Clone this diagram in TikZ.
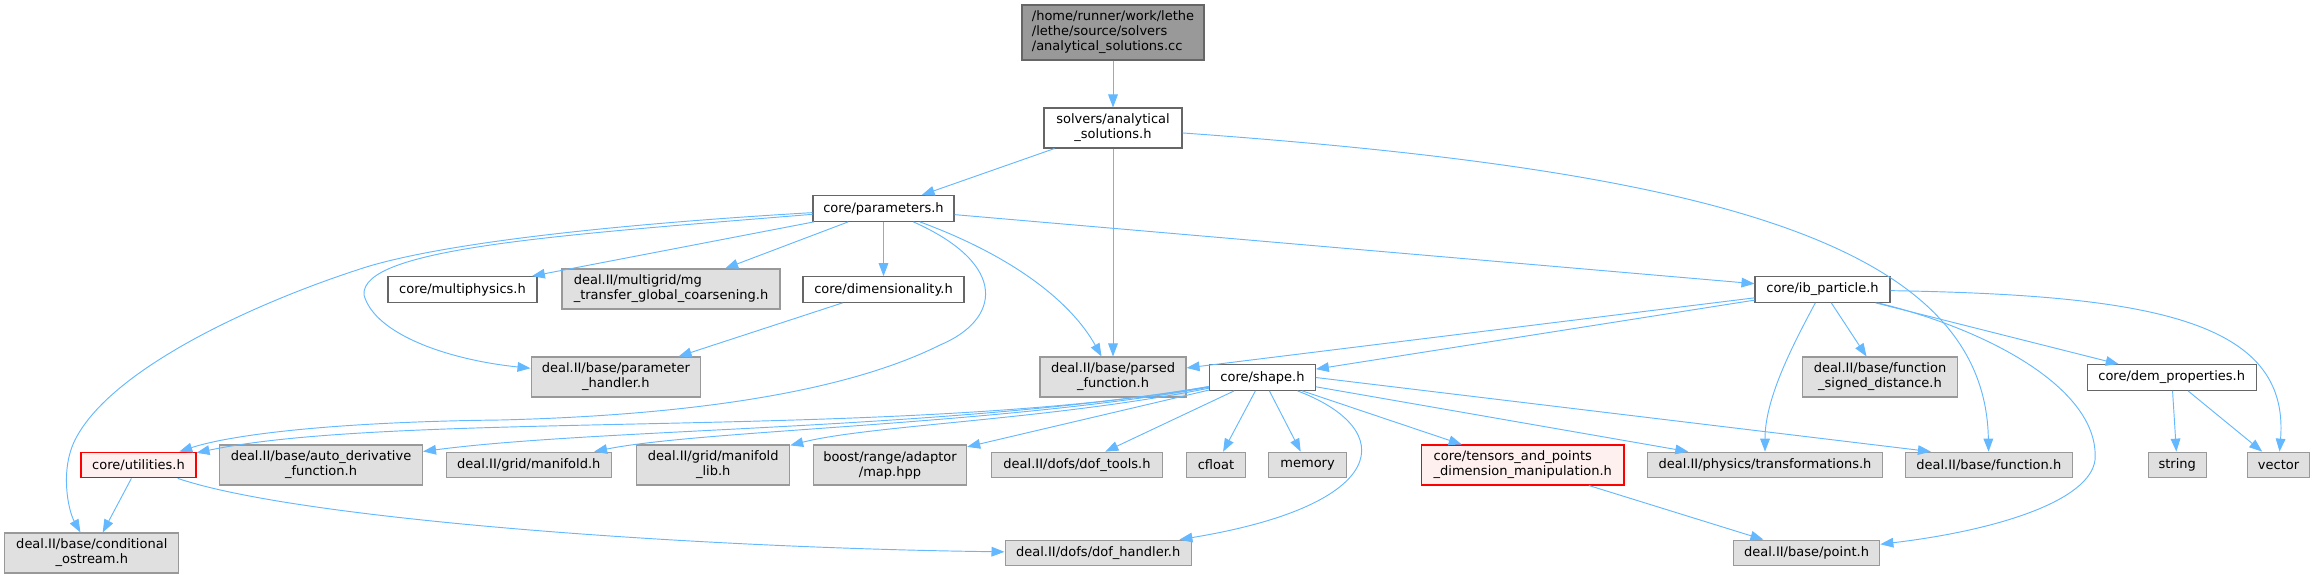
\documentclass[tikz,border=0pt]{standalone}
\usepackage{fontspec}
\setmainfont{DejaVu Sans}
\usepackage{xcolor}
\definecolor{edgeblue}{HTML}{63B8FF}
\definecolor{rootfill}{HTML}{999999}
\definecolor{darkrim}{HTML}{666666}
\definecolor{greyrim}{HTML}{999999}
\definecolor{greyfill}{HTML}{E0E0E0}
\definecolor{redrim}{HTML}{FF0000}
\definecolor{redfill}{HTML}{FFF0F0}
\usetikzlibrary{arrows.meta}
\tikzset{
  >={Triangle[length=0.39cm,width=0.29cm]},
  box/.style     ={font=\fontsize{11.1pt}{12.8pt}\selectfont,inner sep=0pt,
                   line width=0.9pt,minimum height=0.77cm,align=center},
  rootnode/.style={box,draw=darkrim,fill=rootfill,minimum height=1.65cm,align=left},
  filenode/.style={box,draw=darkrim,fill=white},
  sysnode/.style ={box,draw=greyrim,fill=greyfill},
  warnnode/.style={box,draw=redrim,fill=redfill},
  two/.style     ={minimum height=1.2cm},
  dep/.style     ={->,draw=edgeblue,line width=0.8pt},
}
\begin{document}
\begin{tikzpicture}[x=0.03cm,y=-0.03cm]
\useasboundingbox (0,0) rectangle (2315,579);
% top
\node[rootnode,minimum width=5.46cm] (root) at (1113,32.5)
  {/home/runner/work/lethe\\/lethe/source/solvers\\/analytical\_solutions.cc};
\node[filenode,two,minimum width=4.14cm] (sol) at (1113,128) {solvers/analytical\\\_solutions.h};
\node[filenode,minimum width=4.23cm] (params) at (883.5,208.5) {core/parameters.h};
% second row
\node[filenode,minimum width=4.47cm] (multi) at (462.5,289.5) {core/multiphysics.h};
\node[sysnode,two,minimum width=6.54cm,align=left] (mg) at (671,289)
  {deal.II/multigrid/mg\\\_transfer\_global\_coarsening.h};
\node[filenode,minimum width=4.83cm] (dim) at (883.5,289.5) {core/dimensionality.h};
\node[filenode,minimum width=4.05cm] (ibp) at (1822.5,289.5) {core/ib\_particle.h};
% third row
\node[sysnode,two,minimum width=5.085cm] (handler) at (615.8,377) {deal.II/base/parameter\\\_handler.h};
\node[sysnode,two,minimum width=4.38cm] (parsed) at (1113,377) {deal.II/base/parsed\\\_function.h};
\node[filenode,minimum width=3.17cm] (shape) at (1262.5,377.5) {core/shape.h};
\node[sysnode,two,minimum width=4.64cm] (signed) at (1880,377) {deal.II/base/function\\\_signed\_distance.h};
\node[filenode,minimum width=5.06cm] (dem) at (2171.7,377.5) {core/dem\_properties.h};
% fourth row
\node[warnnode,minimum width=3.45cm] (util) at (138.5,465) {core/utilities.h};
\node[sysnode,two,minimum width=6.09cm] (autod) at (321,465) {deal.II/base/auto\_derivative\\\_function.h};
\node[sysnode,minimum width=4.94cm] (manif) at (528.8,465) {deal.II/grid/manifold.h};
\node[sysnode,two,minimum width=4.59cm] (maniflib) at (713.2,465) {deal.II/grid/manifold\\\_lib.h};
\node[sysnode,two,minimum width=4.6cm] (map) at (890,465) {boost/range/adaptor\\/map.hpp};
\node[sysnode,minimum width=5.11cm] (doftools) at (1077,465) {deal.II/dofs/dof\_tools.h};
\node[sysnode,minimum width=1.76cm] (cfloat) at (1216,465) {cfloat};
\node[sysnode,minimum width=2.33cm] (memory) at (1307.6,465) {memory};
\node[warnnode,two,minimum width=6.07cm,align=left] (tensors) at (1522.8,465)
  {core/tensors\_and\_points\\\_dimension\_manipulation.h};
\node[sysnode,minimum width=7.06cm] (transf) at (1765,465) {deal.II/physics/transformations.h};
\node[sysnode,minimum width=5.01cm] (func) at (1988.8,465) {deal.II/base/function.h};
\node[sysnode,minimum width=1.75cm] (string) at (2177.2,465) {string};
\node[sysnode,minimum width=1.87cm] (vector) at (2278.5,465) {vector};
% bottom row
\node[sysnode,two,minimum width=5.21cm] (ostream) at (91.8,553) {deal.II/base/conditional\\\_ostream.h};
\node[sysnode,minimum width=5.59cm] (dofhandler) at (1098.2,553) {deal.II/dofs/dof\_handler.h};
\node[sysnode,minimum width=4.4cm] (point) at (1806.5,553) {deal.II/base/point.h};
% includes
\draw[dep] (root) -- (sol);
\draw[dep] (sol) -- (params);
\draw[dep] (sol) -- (parsed);
\draw[dep] (sol) .. controls (1700,170) and (1985,240) .. (func);
\draw[dep] (params) .. controls (600,225) and (430,245) .. (357,270)
  .. controls (250,305) and (110,370) .. (75,440)
  .. controls (60,470) and (68,510) .. (ostream);
\draw[dep] (params) -- (multi);
\draw[dep] (params) -- (mg);
\draw[dep] (params) -- (dim);
\draw[dep] (params) .. controls (560,235) and (360,248) .. (364,295)
  .. controls (375,335) and (450,360) .. (handler);
\draw[dep] (params) .. controls (1010,255) and (1070,300) .. (parsed);
\draw[dep] (params) .. controls (1010,265) and (1000,320) .. (940,345)
  .. controls (850,390) and (700,415) .. (500,420)
  .. controls (330,422) and (230,435) .. (util);
\draw[dep] (params) -- (ibp);
\draw[dep] (dim) -- (handler);
\draw[dep] (ibp) -- (parsed);
\draw[dep] (ibp) -- (shape);
\draw[dep] (ibp) -- (signed);
\draw[dep] (ibp) .. controls (1790,350) and (1765,400) .. (transf);
\draw[dep] (ibp) -- (dem);
\draw[dep] (ibp) .. controls (1990,330) and (2100,390) .. (2095,460)
  .. controls (2090,500) and (2000,530) .. (point);
\draw[dep] (ibp) .. controls (2150,295) and (2290,320) .. (vector);
\draw[dep] (dem) -- (string);
\draw[dep] (dem) -- (vector);
\draw[dep] (shape) .. controls (900,440) and (400,410) .. (util);
\draw[dep] (shape) .. controls (950,430) and (600,428) .. (autod);
\draw[dep] (shape) .. controls (1000,425) and (700,430) .. (manif);
\draw[dep] (shape) .. controls (1050,420) and (870,425) .. (maniflib);
\draw[dep] (shape) -- (map);
\draw[dep] (shape) -- (doftools);
\draw[dep] (shape) -- (cfloat);
\draw[dep] (shape) -- (memory);
\draw[dep] (shape) .. controls (1400,430) and (1390,505) .. (dofhandler);
\draw[dep] (shape) -- (tensors);
\draw[dep] (shape) -- (transf);
\draw[dep] (shape.east) -- (func.167);
\draw[dep] (util) -- (ostream);
\draw[dep] (util) .. controls (300,520) and (700,548) .. (dofhandler);
\draw[dep] (tensors) -- (point);
\end{tikzpicture}
\end{document}
